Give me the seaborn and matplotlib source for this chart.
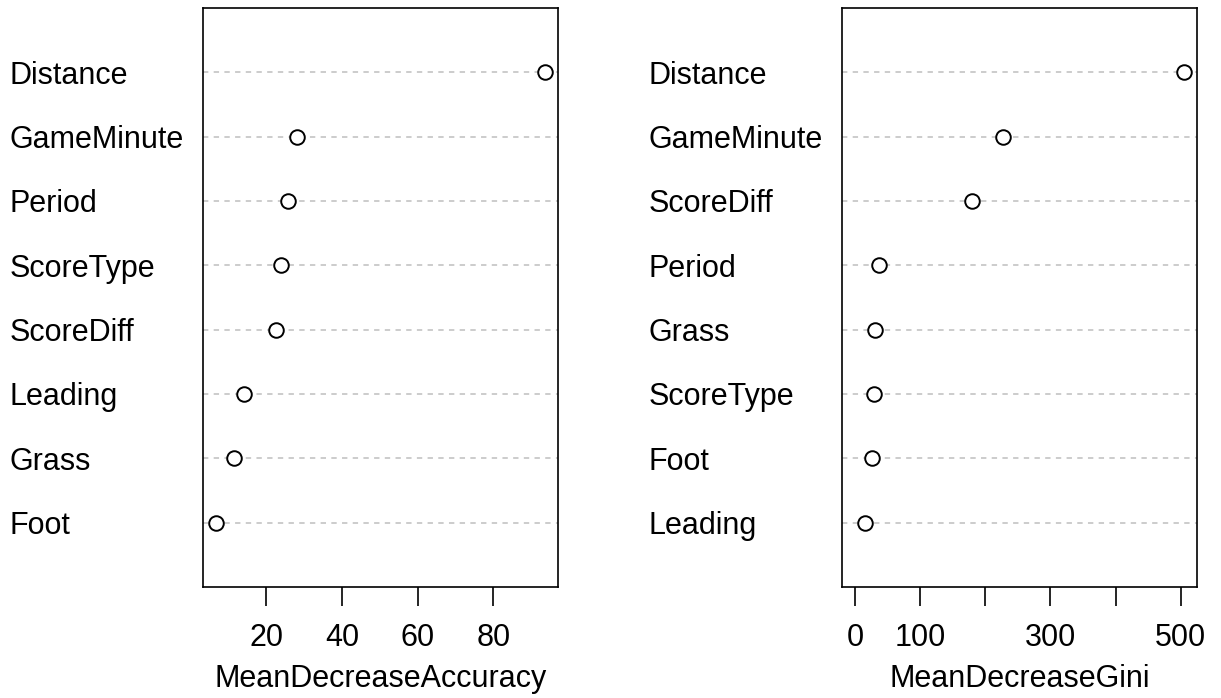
import pandas as pd
import seaborn as sns
import matplotlib.pyplot as plt

# variable importance values (top to bottom)
acc_vars = ['Distance', 'GameMinute', 'Period', 'ScoreType', 'ScoreDiff', 'Leading', 'Grass', 'Foot']
acc_vals = [93.6, 28.2, 25.8, 24.0, 22.6, 14.2, 11.5, 6.8]

gini_vars = ['Distance', 'GameMinute', 'ScoreDiff', 'Period', 'Grass', 'ScoreType', 'Foot', 'Leading']
gini_vals = [505, 227.7, 180, 37, 30.8, 29.2, 26, 15]

acc_ticks = [20, 40, 60, 80]
gini_ticks = [0, 100, 200, 300, 400, 500]
gini_ticklabels = ['0', '100', '', '300', '', '500']

sns.set_style('white')
plt.rcParams['font.family'] = ['Liberation Sans', 'DejaVu Sans']
plt.rcParams['font.size'] = 22
for k in ['text.color', 'axes.labelcolor', 'xtick.color', 'ytick.color']:
    plt.rcParams[k] = 'black'

fig = plt.figure(figsize=(12.21, 6.98), dpi=100)
W, H = 1221, 698
ax1 = fig.add_axes([203 / W, 111 / H, 355 / W, 579 / H])
ax2 = fig.add_axes([842 / W, 111 / H, 355 / W, 579 / H])


def dotchart(ax, names, vals, ticks, ticklabels, xlabel, xmin=None):
    n = len(names)
    df = pd.DataFrame({'var': names, 'val': vals, 'pos': list(range(n, 0, -1))})
    for p in df['pos']:
        ax.axhline(p, color='#bebebe', lw=1.1, ls=(0, (3.5, 3.5)), zorder=1)
    sns.scatterplot(data=df, x='val', y='pos', ax=ax, s=110, marker='o',
                    facecolor='white', edgecolor='black', linewidth=1.4, zorder=3)
    lo = min(vals) if xmin is None else xmin
    hi = max(vals)
    pad = (hi - lo) * 0.04
    ax.set_xlim(lo - pad, hi + pad)
    ax.set_ylim(0, n + 1)
    ax.set_yticks(df['pos'], df['var'])
    ax.tick_params(axis='y', length=0, pad=139)
    for t in ax.get_yticklabels():
        t.set_horizontalalignment('left')
    ax.set_xticks(ticks, ticklabels)
    ax.tick_params(axis='x', direction='out', length=14, width=1.2, pad=12,
                   bottom=True, color='black')
    ax.set_xlabel(xlabel, labelpad=8)
    ax.set_ylabel('')
    for s in ax.spines.values():
        s.set_color('black')
        s.set_linewidth(1.2)
    ax.grid(False)


dotchart(ax1, acc_vars, acc_vals, acc_ticks, [str(t) for t in acc_ticks], 'MeanDecreaseAccuracy')
dotchart(ax2, gini_vars, gini_vals, gini_ticks, gini_ticklabels, 'MeanDecreaseGini', xmin=0)

fig.savefig('out.png', dpi=100)
